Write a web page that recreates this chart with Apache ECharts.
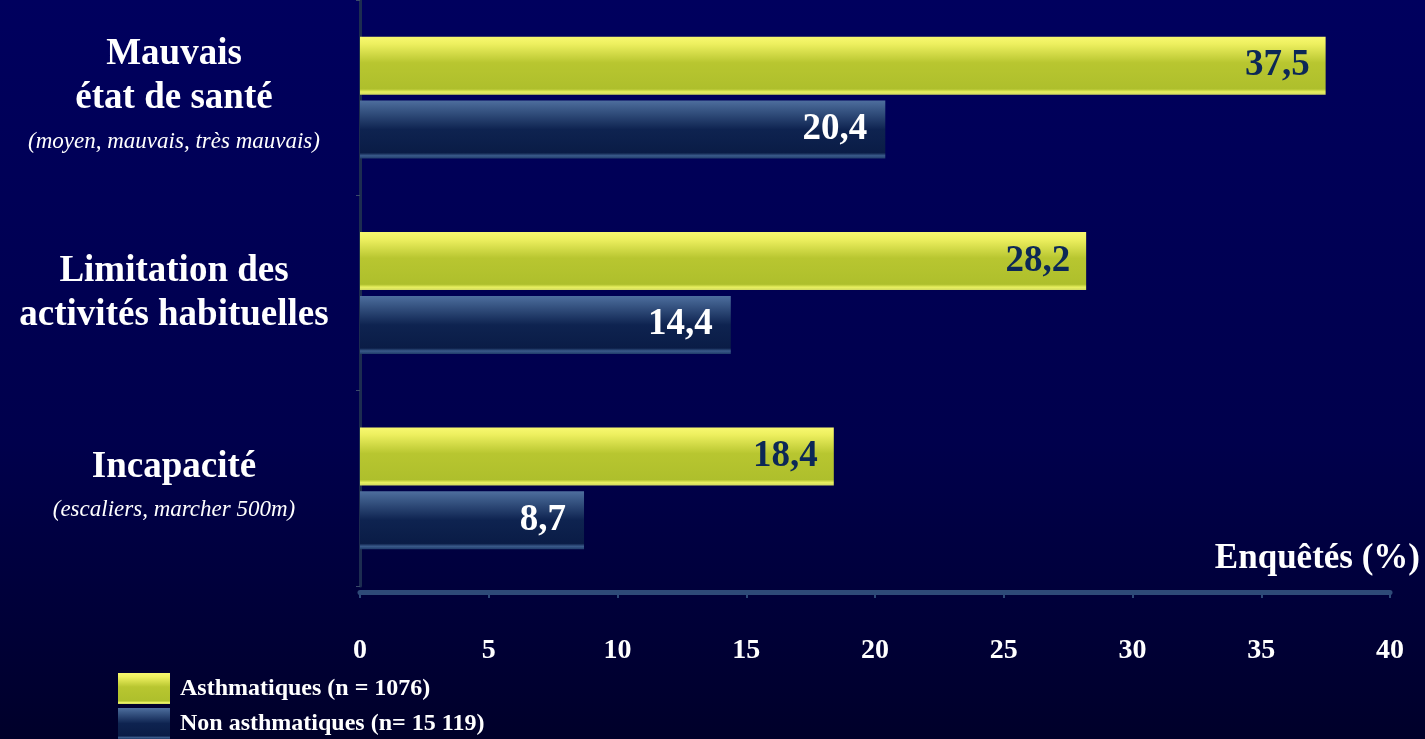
<!DOCTYPE html>
<html><head><meta charset="utf-8">
<style>html,body{margin:0;padding:0;background:#000050;}#c{width:1425px;height:739px;}</style>
<script src="https://cdn.jsdelivr.net/npm/echarts@6/dist/echarts.min.js"></script>
</head><body><div id="c"></div>
<script>
var categories = ['Mauvais|état de santé|(moyen, mauvais, très mauvais)', 'Limitation des|activités habituelles', 'Incapacité|(escaliers, marcher 500m)'];
var asthmatiques = [37.5, 28.2, 18.4];
var nonAsthmatiques = [20.4, 14.4, 8.7];
var xTicks = [0, 5, 10, 15, 20, 25, 30, 35, 40];
var seriesNames = ['Asthmatiques (n = 1076)', 'Non asthmatiques (n= 15 119)'];

var serif = '"Liberation Serif", "DejaVu Serif", serif';
var chart = echarts.init(document.getElementById('c'));
function fmt(p){ return String(p.value).replace('.', ','); }
var yellowGrad = new echarts.graphic.LinearGradient(0,0,0,1,[
  {offset:0,color:'#f8f870'},{offset:0.12,color:'#eef060'},{offset:0.45,color:'#b8c630'},
  {offset:0.9,color:'#aebf2c'},{offset:0.95,color:'#e8f060'},{offset:1,color:'#d0d860'}]);
var blueGrad = new echarts.graphic.LinearGradient(0,0,0,1,[
  {offset:0,color:'#4e6e9e'},{offset:0.15,color:'#3a5886'},{offset:0.5,color:'#0e2350'},
  {offset:0.9,color:'#0a1c46'},{offset:0.95,color:'#3a5a8a'},{offset:1,color:'#203c6a'}]);
var legendText = {color:'#ffffff', fontFamily:serif, fontWeight:'bold', fontSize:24, padding:[2,0,0,5]};

chart.setOption({
  backgroundColor: new echarts.graphic.LinearGradient(0,0,0,1,[
    {offset:0,color:'#00005e'},{offset:0.6,color:'#00004c'},{offset:1,color:'#00002a'}]),
  animation:false,
  grid:{left:360, right:35, top:0, bottom:153, containLabel:false},
  legend:[
    {left:118, top:673, itemWidth:52, itemHeight:31, icon:'rect', data:[seriesNames[0]], textStyle:legendText, padding:0},
    {left:118, top:708, itemWidth:52, itemHeight:31, icon:'rect', data:[seriesNames[1]], textStyle:legendText, padding:0}
  ],
  graphic:[{type:'text', right:5, top:541,
    style:{text:'Enquêtés (%)', fill:'#ffffff', font:'bold 35px '+serif}}],
  xAxis:{
    type:'value', min:0, max:40, interval:5, offset:6,
    axisLine:{show:true, lineStyle:{color:'#2e4a78', width:5}},
    axisTick:{show:true, length:6, lineStyle:{color:'#2e4a78', width:2}},
    splitLine:{show:false},
    axisLabel:{color:'#ffffff', fontFamily:serif, fontWeight:'bold', fontSize:28, margin:45,
      formatter:function(v){ return xTicks.indexOf(v) >= 0 ? String(v) : ''; }}
  },
  yAxis:{
    type:'category', inverse:true, data:categories,
    axisLine:{show:true, lineStyle:{color:'#1c2c50', width:3}},
    axisTick:{show:true, length:4, lineStyle:{color:'#3a4a6a'}},
    axisLabel:{
      align:'center', margin:186, lineHeight:44,
      formatter:function(v){
        var parts = v.split('|');
        return parts.map(function(p){ return p.charAt(0)==='(' ? '{s|'+p+'}' : '{m|'+p+'}'; }).join('\n');
      },
      rich:{
        m:{color:'#ffffff', fontFamily:serif, fontWeight:'bold', fontSize:37, lineHeight:44},
        s:{color:'#ffffff', fontFamily:serif, fontStyle:'italic', fontSize:23, lineHeight:42}
      }
    }
  },
  series:[
    {name:seriesNames[0], type:'bar', data:asthmatiques, barWidth:58, barGap:'10%',
     itemStyle:{color:yellowGrad},
     label:{show:true, position:'insideRight', distance:16, formatter:fmt,
       color:'#0c2856', fontFamily:serif, fontWeight:'bold', fontSize:37}},
    {name:seriesNames[1], type:'bar', data:nonAsthmatiques, barWidth:58,
     itemStyle:{color:blueGrad},
     label:{show:true, position:'insideRight', distance:18, formatter:fmt,
       color:'#ffffff', fontFamily:serif, fontWeight:'bold', fontSize:37}}
  ]
});
</script></body></html>
